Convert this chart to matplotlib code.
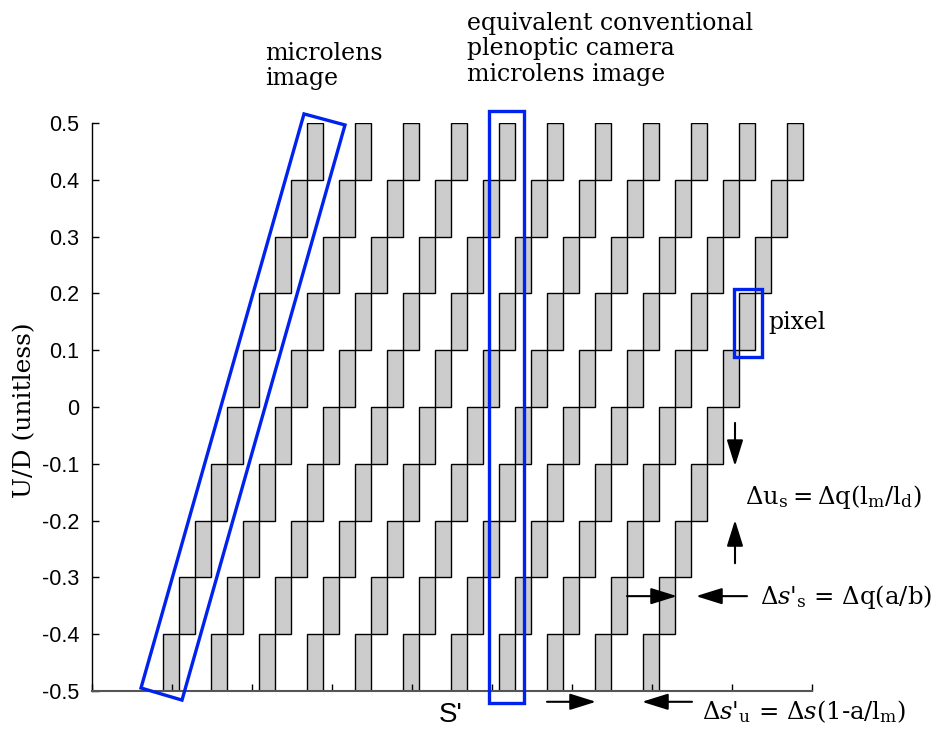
import numpy as np
import matplotlib
matplotlib.use('Agg')
import matplotlib.pyplot as plt
from matplotlib.patches import Rectangle, Polygon

plt.rcParams['mathtext.fontset'] = 'dejavuserif'

# ── Sensor layout ────────────────────────────────────────────────────────────
row_bottom = [-0.5, -0.4, -0.3, -0.2, -0.1, 0.0, 0.1, 0.2, 0.3, 0.4]
row_first_left = [0.89, 1.09, 1.29, 1.49, 1.69, 1.89, 2.09, 2.29, 2.49, 2.69]
pixel_width = 0.2
pixel_height = 0.1
column_pitch = 0.6
n_columns = 11

y_ticks = [-0.5, -0.4, -0.3, -0.2, -0.1, 0, 0.1, 0.2, 0.3, 0.4, 0.5]
y_ticklabels = ['-0.5', '-0.4', '-0.3', '-0.2', '-0.1', '0', '0.1', '0.2', '0.3', '0.4', '0.5']
x_ticks = [0, 1, 2, 3, 4, 5, 6, 7, 8, 9]

W, H = 938, 734
fig = plt.figure(figsize=(W / 100, H / 100), dpi=100)
ax = fig.add_axes([92 / W, 1 - 691 / H, 720 / W, 568 / H])
ax.set_xlim(0, 9)
ax.set_ylim(-0.5, 0.5)

for yb, x0 in zip(row_bottom, row_first_left):
    for k in range(n_columns):
        ax.add_patch(Rectangle((x0 + k * column_pitch, yb), pixel_width, pixel_height,
                               facecolor='#cccccc', edgecolor='black', linewidth=1.0))

ax.spines['top'].set_visible(False)
ax.spines['right'].set_visible(False)
ax.spines['left'].set_linewidth(1.0)
ax.spines['bottom'].set_color('#555555')
ax.spines['bottom'].set_linewidth(1.5)
ax.set_yticks(y_ticks)
ax.set_yticklabels(y_ticklabels, fontsize=15.5, family='Liberation Sans')
ax.set_xticks(x_ticks)
ax.set_xticklabels([])
ax.tick_params(direction='in', length=5, width=1, pad=9)

blue = '#0022ee'
# tilted microlens image
ax.add_patch(Polygon([(2.65, 0.516), (3.1625, 0.4965), (1.125, -0.516), (0.6125, -0.4947)],
                     closed=True, fill=False, edgecolor=blue, linewidth=2.4, clip_on=False, zorder=5))
# equivalent conventional microlens image
ax.add_patch(Rectangle((4.9625, -0.521), 0.4375, 1.042, fill=False, edgecolor=blue,
                       linewidth=2.4, clip_on=False, zorder=5))
# single pixel
ax.add_patch(Rectangle((8.025, 0.088), 0.35, 0.12, fill=False, edgecolor=blue,
                       linewidth=2.4, clip_on=False, zorder=5))

arrow = dict(arrowstyle='-|>,head_length=0.8,head_width=0.25', color='black', lw=1.5,
             mutation_scale=20, shrinkA=0, shrinkB=0)
for tail, tip in [((8.0375, -0.028), (8.0375, -0.104)),
                  ((8.0375, -0.275), (8.0375, -0.199)),
                  ((6.6875, -0.333), (7.3125, -0.333)),
                  ((8.1875, -0.333), (7.55, -0.333)),
                  ((5.6875, -0.519), (6.30, -0.519)),
                  ((7.50, -0.519), (6.875, -0.519))]:
    ax.annotate('', xy=tip, xytext=tail, arrowprops=arrow, annotation_clip=False)

serif = 'DejaVu Serif'
fig.text(265 / W, 1 - 66 / H, 'microlens\nimage', fontsize=17, family=serif,
         va='center', ha='left', linespacing=1.15)
fig.text(467 / W, 1 - 49 / H, 'equivalent conventional\nplenoptic camera\nmicrolens image',
         fontsize=17, family=serif, va='center', ha='left', linespacing=1.15)
fig.text(768 / W, 1 - 323 / H, 'pixel', fontsize=17, family=serif, va='center', ha='left')
fig.text(745 / W, 1 - 497 / H, r'$\Delta\mathrm{u_s = \Delta q(l_m/l_d)}$',
         fontsize=17.5, va='center', ha='left')
fig.text(760 / W, 1 - 597 / H, r"$\Delta s$'$_\mathrm{s}$ = $\Delta\mathrm{q(a/b)}$",
         fontsize=17.5, family=serif, va='center', ha='left')
fig.text(702 / W, 1 - 712 / H, r"$\Delta s$'$_\mathrm{u}$ = $\Delta s\mathrm{(1\text{-}a/l_m)}$",
         fontsize=17.5, family=serif, va='center', ha='left')
fig.text(439 / W, 1 - 715 / H, "S'", fontsize=20, family='Liberation Sans', va='center', ha='left')
fig.text(25 / W, 1 - 410 / H, 'U/D (unitless)', fontsize=18, family=serif,
         rotation=90, va='center', ha='center')

fig.savefig('out.png', dpi=100)
